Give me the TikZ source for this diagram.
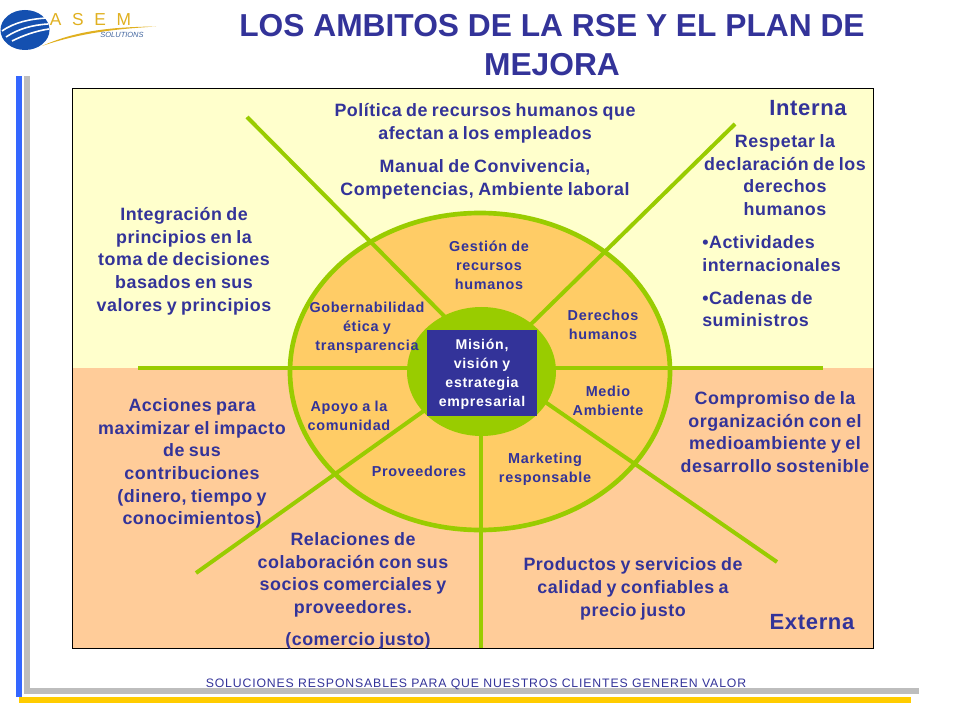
\documentclass[tikz,border=0pt]{standalone}
\usetikzlibrary{shapes.geometric}
\usepackage{fontspec}
\setmainfont{Liberation Sans}
\newfontfamily\spaced[LetterSpace=3,WordSpace=0.8]{Liberation Sans}
\newfontfamily\wide[LetterSpace=5,WordSpace=0.9]{Liberation Sans}
\newfontfamily\footf[LetterSpace=7]{Liberation Sans}
\definecolor{navy}{HTML}{333399}
\definecolor{leaf}{HTML}{99CC00}
\definecolor{paleY}{HTML}{FFFFCC}
\definecolor{paleO}{HTML}{FFCC99}
\definecolor{ringO}{HTML}{FFCC66}
\definecolor{barB}{HTML}{3366FF}
\definecolor{barG}{HTML}{BDBDBD}
\definecolor{barY}{HTML}{FFCC00}
\definecolor{gold}{HTML}{E0B020}
\definecolor{ball}{HTML}{1450B0}
\tikzset{
  body/.style={text=navy,align=center,inner sep=0pt,font=\spaced\bfseries\fontsize{13.4}{17}\selectfont},
  bodyl/.style={body,align=left,anchor=west},
  sector/.style={text=navy,align=center,inner sep=0pt,font=\wide\bfseries\fontsize{10.8}{14.2}\selectfont},
  spoke/.style={draw=leaf,line width=3pt},
  titlet/.style={text=navy,align=center,inner sep=0pt,font=\bfseries\fontsize{23.8}{29.3}\selectfont},
  zonet/.style={text=navy,inner sep=0pt,font=\spaced\bfseries\fontsize{16.5}{20}\selectfont},
}
\begin{document}
\begin{tikzpicture}[x=0.75pt,y=-0.75pt]
\useasboundingbox (0,0) rectangle (960,720);
% decorative bars
\fill[barB] (16,76) rectangle (22,697);
\fill[barG] (24,76) rectangle (30,694);
\fill[barG] (28,688) rectangle (919,694);
\fill[barY] (19,697) rectangle (911,703);
% panels
\fill[paleY] (72,88) rectangle (873,368);
\fill[paleO] (72,368) rectangle (873,648);
\draw[black,line width=0.6pt] (72,88) rectangle (873,648);
% logo
\fill[gold] (42,46) .. controls (75,31) and (110,27) .. (156,26.5) .. controls (115,29) and (80,33) .. (42,46) -- cycle;
\fill[ball] (25,30) ellipse (24.5 and 20);
\draw[white,line width=1.2pt] (2,31) .. controls (15,22) and (30,19) .. (47,18);
\draw[white,line width=1.2pt] (6,37) .. controls (18,29) and (32,25) .. (48,24);
\draw[white,line width=1.2pt] (12,41) .. controls (22,36) and (35,31) .. (49,29);
\node[text=gold,inner sep=0pt,font=\fontsize{13}{15}\selectfont] (logotext) at (90.5,20) {A\hspace{8pt}S\hspace{8pt}E\hspace{8pt}M};
\node[text=ball!60!gray,inner sep=0pt,font=\itshape\fontsize{5.6}{7}\selectfont] (logosub) at (122,34.5) {SOLUTIONS};
% title
\node[titlet] (title) at (552,45) {LOS AMBITOS DE LA RSE Y EL PLAN DE\\MEJORA};
% named spoke ends
\coordinate (hl) at (138,368);
\coordinate (hr) at (823,368);
\coordinate (ul) at (247,117);
\coordinate (ulin) at (450,322);
\coordinate (ur) at (735,124);
\coordinate (urin) at (525,330);
\coordinate (ll) at (196,573);
\coordinate (llin) at (432,405);
\coordinate (lr) at (777,562);
\coordinate (lrin) at (535,395);
\coordinate (dn) at (481,648);
\coordinate (dnin) at (481,420);
% ring
\node[draw=leaf,line width=3.5pt,fill=ringO,ellipse,minimum width=285pt,minimum height=237.75pt,inner sep=0pt] (ring) at (480,371.5) {};
% spokes
\draw[spoke] (hl) -- (hr);
\draw[spoke] (ul) -- (ulin);
\draw[spoke] (ur) -- (urin);
\draw[spoke] (ll) -- (llin);
\draw[spoke] (lr) -- (lrin);
\draw[spoke] (dn) -- (dnin);
% hub
\node[fill=leaf,ellipse,minimum width=111.75pt,minimum height=96.75pt,inner sep=0pt] (hub) at (481.5,371.5) {};
\node[fill=navy,minimum width=82.5pt,minimum height=64.5pt,inner sep=0pt] (core) at (482,373) {};
\node[text=white,inner sep=0pt,align=center,font=\wide\bfseries\fontsize{10.6}{14.2}\selectfont] (corelabel) at (482,374) {Misión,\\visión y\\estrategia\\empresarial};
% sectors
\node[sector] (s1) at (489,265.5) {Gestión de\\recursos\\humanos};
\node[sector] (s2) at (367,327.5) {Gobernabilidad\\ética y\\transparencia};
\node[sector] (s3) at (603,324.5) {Derechos\\humanos};
\node[sector] (s4) at (608,400.5) {Medio\\Ambiente};
\node[sector] (s5) at (349,415.5) {Apoyo a la\\comunidad};
\node[sector] (s6) at (419,471.5) {Proveedores};
\node[sector] (s7) at (545,469) {Marketing\\responsable};
% outer text
\node[body] (t1) at (485,123.5) {Política de recursos humanos que\\afectan a los empleados};
\node[body] (t2) at (485,179.5) {Manual de Convivencia,\\Competencias, Ambiente laboral};
\node[body] (t3) at (184,261) {Integración de\\principios  en la\\toma de decisiones\\basados en sus\\valores y principios};
\node[zonet] (zi) at (808,108) {Interna};
\node[body] (t4) at (785,175) {Respetar la\\declaración de los\\derechos\\humanos};
\node[bodyl] (t5) at (702,253.5) {•Actividades\\internacionales};
\node[bodyl] (t6) at (702,309) {•Cadenas de\\suministros};
\node[body] (t7) at (192,463.5) {Acciones para\\maximizar el impacto\\de sus\\contribuciones\\(dinero, tiempo y\\conocimientos)};
\node[body] (t8) at (775,432) {Compromiso de la\\organización con el\\medioambiente y el\\desarrollo sostenible};
\node[body] (t9) at (353,575) {Relaciones de\\colaboración  con sus\\socios comerciales y\\proveedores.};
\node[body] (t10) at (358,641) {(comercio justo)};
\node[body] (t11) at (633,589) {Productos y servicios de\\calidad y confiables a\\precio justo};
\node[zonet] (ze) at (812,622) {Externa};
% footer
\node[text=navy,inner sep=0pt,font=\footf\fontsize{9.2}{10}\selectfont] (foot) at (476,684) {SOLUCIONES RESPONSABLES PARA QUE NUESTROS CLIENTES GENEREN VALOR};
\end{tikzpicture}
\end{document}
